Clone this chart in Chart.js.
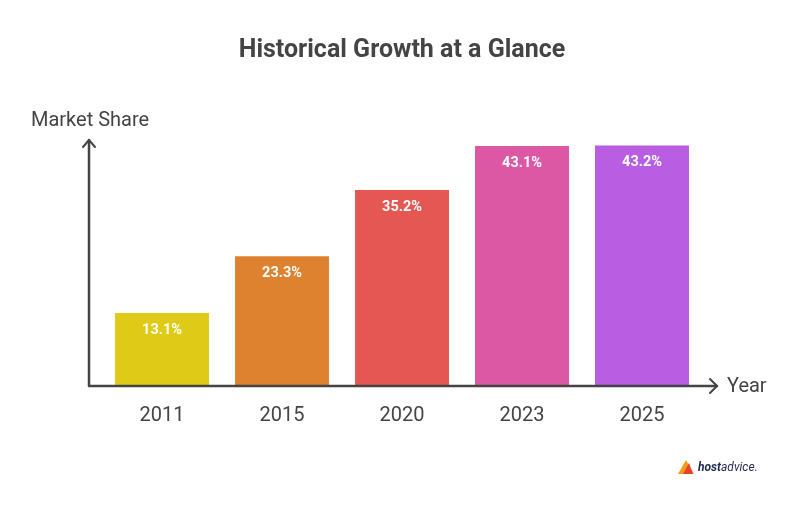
<!DOCTYPE html>
<html lang="en">
<head>
  <meta charset="UTF-8" />
  <title>Historical Growth at a Glance</title>
  <style>
    html, body { margin: 0; padding: 0; background: #fff; }
    #wrap { width: 798px; height: 514px; }
  </style>
</head>
<body>
  <div id="wrap"><canvas id="growthChart"></canvas></div>

  <script src="https://cdn.jsdelivr.net/npm/chart.js"></script>
  <script>
    // chart data
    const years = ['2011', '2015', '2020', '2023', '2025'];
    const shares = [13.1, 23.3, 35.2, 43.1, 43.2];
    const barColors = ['#dfcb17', '#de8230', '#e45752', '#dc58a5', '#b95ee2'];

    const INK = '#444444';

    // axes with arrows, axis titles, value labels and the little logo
    const decorations = {
      id: 'decorations',
      afterDatasetsDraw(chart) {
        const ctx = chart.ctx;
        const area = chart.chartArea;
        const x0 = area.left - 13;
        const y0 = area.bottom;
        ctx.save();

        // axis lines
        ctx.strokeStyle = INK;
        ctx.lineWidth = 2.5;
        ctx.lineCap = 'round';
        ctx.lineJoin = 'round';
        ctx.beginPath();
        ctx.moveTo(x0, area.top);
        ctx.lineTo(x0, y0);
        ctx.lineTo(area.right + 15, y0);
        ctx.stroke();
        // arrow heads
        ctx.lineWidth = 2;
        ctx.beginPath();
        ctx.moveTo(x0 - 6, area.top + 7);
        ctx.lineTo(x0, area.top);
        ctx.lineTo(x0 + 6, area.top + 7);
        ctx.moveTo(area.right + 8, y0 - 7);
        ctx.lineTo(area.right + 15, y0);
        ctx.lineTo(area.right + 8, y0 + 7);
        ctx.stroke();

        // axis titles
        ctx.fillStyle = INK;
        ctx.font = '20px Roboto, sans-serif';
        ctx.textBaseline = 'middle';
        ctx.textAlign = 'left';
        ctx.fillText('Market Share', 31, 121);
        ctx.fillText('Year', 727, y0 + 1);

        // value labels inside the bars
        const meta = chart.getDatasetMeta(0);
        ctx.fillStyle = '#ffffff';
        ctx.font = 'bold 14.5px Roboto, sans-serif';
        ctx.textAlign = 'center';
        meta.data.forEach((bar, i) => {
          ctx.fillText(shares[i].toFixed(1) + '%', bar.x, bar.y + 17);
        });

        // hostadvice mark
        ctx.fillStyle = '#f39a1e';
        ctx.beginPath();
        ctx.moveTo(678, 474); ctx.lineTo(686, 460); ctx.lineTo(694, 474); ctx.closePath();
        ctx.fill();
        ctx.fillStyle = '#e5432e';
        ctx.beginPath();
        ctx.moveTo(683, 474); ctx.lineTo(689, 463); ctx.lineTo(693, 474); ctx.closePath();
        ctx.fill();
        ctx.textAlign = 'left';
        ctx.fillStyle = '#1d2a4a';
        ctx.font = 'italic bold 12px Roboto, sans-serif';
        ctx.fillText('host', 698, 468);
        const w = ctx.measureText('host').width;
        ctx.font = 'italic 12px Roboto, sans-serif';
        ctx.fillText('advice.', 698 + w, 468);

        ctx.restore();
      }
    };

    new Chart(document.getElementById('growthChart'), {
      type: 'bar',
      data: {
        labels: years,
        datasets: [{
          label: 'Market Share',
          data: shares,
          backgroundColor: barColors,
          borderWidth: 0,
          barPercentage: 0.783,
          categoryPercentage: 1
        }]
      },
      options: {
        responsive: true,
        maintainAspectRatio: false,
        animation: false,
        layout: {
          padding: { left: 102, right: 96, top: 0, bottom: 68 }
        },
        scales: {
          x: {
            grid: { display: false, drawTicks: false },
            border: { display: false },
            ticks: {
              color: INK,
              font: { family: 'Roboto, sans-serif', size: 20 },
              padding: 18
            }
          },
          y: {
            display: false,
            min: 0,
            max: 44.2
          }
        },
        plugins: {
          legend: { display: false },
          tooltip: { enabled: false },
          title: {
            display: true,
            text: 'Historical Growth at a Glance',
            color: INK,
            font: { family: 'Roboto, sans-serif', size: 25, weight: 'bold' },
            padding: { top: 36, bottom: 74 }
          }
        }
      },
      plugins: [decorations]
    });
  </script>
</body>
</html>
